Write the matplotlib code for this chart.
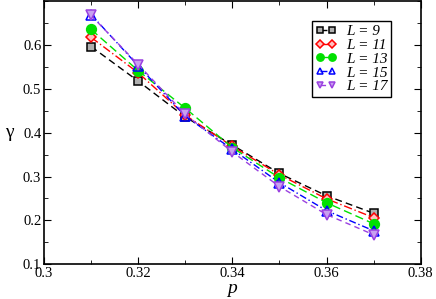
import matplotlib.pyplot as plt
from matplotlib.ticker import MultipleLocator

plt.rcParams['font.family'] = ['Liberation Serif', 'DejaVu Serif']

p = [0.31, 0.32, 0.33, 0.34, 0.35, 0.36, 0.37]
sizes = [9, 11, 13, 15, 17]
gamma_9 = [0.597, 0.518, 0.436, 0.372, 0.307, 0.256, 0.216]
gamma_11 = [0.618, 0.537, 0.440, 0.369, 0.304, 0.249, 0.206]
gamma_13 = [0.636, 0.542, 0.456, 0.366, 0.297, 0.240, 0.192]
gamma_15 = [0.670, 0.553, 0.438, 0.362, 0.286, 0.222, 0.176]
gamma_17 = [0.668, 0.556, 0.442, 0.356, 0.277, 0.213, 0.167]

series = [gamma_9, gamma_11, gamma_13, gamma_15, gamma_17]
colors = ['black', 'red', '#00e000', 'blue', '#9a40e0']
markers = ['s', 'D', 'o', '^', 'v']
faces = ['#b0b0b0', '#ffc0c0', '#00e000', 'none', '#c8a0f0']
msizes = [5.5, 5.5, 7, 6.5, 6.5]
dashes = [(5, 3), (6, 2, 1, 2), (6, 3), (5, 2, 1, 2), (4, 3)]

fig = plt.figure(figsize=(4.36, 2.99), dpi=100)
ax = fig.add_axes([0.101, 0.117, 0.864, 0.878])

for L, g, c, m, fc, ms, d in zip(sizes, series, colors, markers, faces, msizes, dashes):
    ax.plot(p, g, color=c, marker=m, markerfacecolor=fc, markeredgecolor=c,
            markersize=ms, markeredgewidth=1.1, linewidth=1.0, dashes=d,
            label='L = %d' % L)

ax.set_xlim(0.3, 0.38)
ax.set_ylim(0.1, 0.7)
ax.xaxis.set_minor_locator(MultipleLocator(0.01))
ax.yaxis.set_minor_locator(MultipleLocator(0.05))
ax.set_xticks([0.3, 0.32, 0.34, 0.36, 0.38])
ax.set_xticklabels(['0.3', '0.32', '0.34', '0.36', '0.38'])
ax.set_yticks([0.1, 0.2, 0.3, 0.4, 0.5, 0.6])
ax.set_yticklabels(['0.1', '0.2', '0.3', '0.4', '0.5', '0.6'])
ax.tick_params(which='both', direction='in', top=True, right=True, labelsize=10.5, pad=2)
ax.tick_params(which='major', length=5)
ax.tick_params(which='minor', length=3)
for s in ax.spines.values():
    s.set_linewidth(1.2)

ax.set_xlabel('p', fontstyle='italic', fontsize=14, labelpad=0)
ax.set_ylabel('γ', fontsize=14, rotation=0, labelpad=10, va='center')

leg = ax.legend(loc='upper right', bbox_to_anchor=(0.922, 0.926), numpoints=2,
                handlelength=1.4, handletextpad=0.6, labelspacing=0.0,
                borderpad=0.25, borderaxespad=0, fancybox=False, framealpha=1,
                markerscale=0.75, prop={'style': 'italic', 'size': 11})
leg.get_frame().set_edgecolor('black')
leg.get_frame().set_linewidth(1.0)

fig.savefig('out.png', dpi=100)
